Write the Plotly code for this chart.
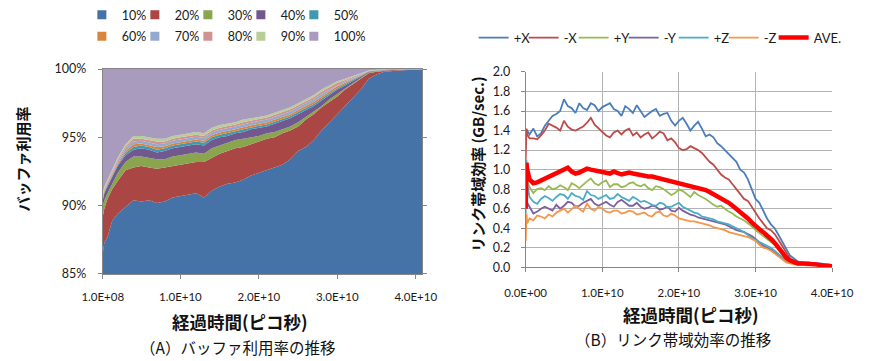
import plotly.graph_objects as go

# ---------------- (A) buffer utilisation, cumulative share per level ----------------
buf_t = [0.01, 0.03, 0.07, 0.13, 0.2, 0.3, 0.4, 0.5, 0.6, 0.7, 0.8, 0.9, 1.0, 1.1, 1.2,
         1.3, 1.4, 1.5, 1.6, 1.7, 1.8, 1.9, 2.0, 2.1, 2.2, 2.3, 2.4, 2.5, 2.6, 2.7, 2.8,
         2.9, 3.0, 3.1, 3.2, 3.3, 3.4, 3.5, 3.6, 3.7, 3.8, 3.9, 4.0, 4.08]  # x 1e10 ps

lv10 = [86.5, 87.3, 87.7, 88.9, 89.4, 89.9, 90.4, 90.3, 90.4, 90.2, 90.3, 90.6, 90.7, 90.8,
        90.9, 90.6, 91.1, 91.4, 91.6, 91.7, 91.9, 92.2, 92.4, 92.6, 92.8, 93.0, 93.4, 94.0,
        94.3, 94.8, 95.5, 96.1, 96.7, 97.3, 97.9, 98.5, 99.3, 99.6, 99.8, 99.87, 99.9, 99.93,
        99.95, 99.96]
lv20 = [89.2, 89.8, 90.5, 91.2, 91.8, 92.6, 92.8, 92.9, 92.8, 92.7, 92.8, 92.9, 93.0, 93.1,
        93.2, 93.2, 93.5, 93.8, 94.0, 94.2, 94.3, 94.5, 94.7, 94.9, 95.0, 95.3, 95.5, 95.8,
        96.3, 96.7, 97.2, 97.6, 98.0, 98.5, 98.9, 99.3, 99.7, 99.8, 99.88, 99.92, 99.94, 99.96,
        99.97, 99.97]
lv30 = [90.0, 90.4, 90.9, 91.6, 92.4, 93.2, 93.6, 93.6, 93.5, 93.4, 93.4, 93.6, 93.7, 93.8,
        93.9, 93.8, 94.2, 94.4, 94.6, 94.8, 94.9, 95.0, 95.1, 95.3, 95.4, 95.6, 95.8, 96.1,
        96.5, 96.9, 97.3, 97.8, 98.2, 98.6, 98.95, 99.35, 99.75, 99.85, 99.9, 99.94, 99.96,
        99.97, 99.98, 99.98]
lv40 = [90.4, 90.9, 91.4, 92.1, 92.9, 93.7, 94.1, 94.2, 94.1, 93.9, 94.0, 94.2, 94.3, 94.4,
        94.5, 94.4, 94.8, 95.0, 95.1, 95.3, 95.4, 95.6, 95.7, 95.8, 96.0, 96.2, 96.4, 96.7,
        97.0, 97.3, 97.7, 98.1, 98.5, 98.8, 99.1, 99.45, 99.8, 99.88, 99.92, 99.95, 99.97,
        99.98, 99.985, 99.985]
lv50 = [90.5, 91.0, 91.5, 92.2, 93.0, 93.85, 94.3, 94.4, 94.3, 94.1, 94.2, 94.4, 94.5, 94.6,
        94.7, 94.6, 95.0, 95.2, 95.3, 95.45, 95.6, 95.75, 95.85, 95.95, 96.15, 96.35, 96.55,
        96.85, 97.15, 97.45, 97.85, 98.25, 98.6, 98.9, 99.2, 99.5, 99.82, 99.89, 99.93, 99.96,
        99.975, 99.982, 99.987, 99.987]
lv60 = [90.6, 91.1, 91.6, 92.3, 93.1, 94.0, 94.5, 94.55, 94.45, 94.3, 94.35, 94.55, 94.65,
        94.75, 94.85, 94.75, 95.15, 95.35, 95.45, 95.6, 95.75, 95.9, 96.0, 96.1, 96.3, 96.5,
        96.7, 97.0, 97.3, 97.6, 98.0, 98.4, 98.75, 99.0, 99.25, 99.55, 99.84, 99.91, 99.94,
        99.965, 99.98, 99.985, 99.989, 99.989]
lv70 = [90.7, 91.2, 91.7, 92.4, 93.25, 94.2, 94.7, 94.75, 94.65, 94.5, 94.55, 94.75, 94.85,
        94.95, 95.05, 94.95, 95.35, 95.55, 95.65, 95.8, 95.95, 96.1, 96.2, 96.3, 96.5, 96.7,
        96.9, 97.2, 97.5, 97.8, 98.2, 98.5, 98.85, 99.1, 99.35, 99.6, 99.86, 99.92, 99.95,
        99.97, 99.985, 99.987, 99.991, 99.991]
lv80 = [90.8, 91.3, 91.8, 92.5, 93.4, 94.35, 94.9, 94.9, 94.8, 94.7, 94.7, 94.9, 95.0, 95.1,
        95.2, 95.1, 95.5, 95.7, 95.8, 95.95, 96.1, 96.25, 96.35, 96.45, 96.65, 96.85, 97.05,
        97.35, 97.65, 97.95, 98.35, 98.65, 99.0, 99.2, 99.4, 99.65, 99.88, 99.94, 99.96,
        99.975, 99.985, 99.988, 99.993, 99.993]
lv90 = [90.9, 91.4, 91.9, 92.6, 93.5, 94.5, 95.1, 95.1, 95.0, 94.9, 94.9, 95.1, 95.2, 95.3,
        95.4, 95.3, 95.7, 95.9, 96.0, 96.1, 96.3, 96.4, 96.5, 96.6, 96.8, 97.0, 97.2, 97.5,
        97.8, 98.1, 98.5, 98.8, 99.1, 99.3, 99.5, 99.7, 99.9, 99.95, 99.97, 99.98, 99.99,
        99.99, 99.995, 99.995]
lv100 = [100.0] * len(buf_t)

level_names = ["10%", "20%", "30%", "40%", "50%", "60%", "70%", "80%", "90%", "100%"]
level_series = [lv10, lv20, lv30, lv40, lv50, lv60, lv70, lv80, lv90, lv100]
level_colors = ["#4572A7", "#AA4643", "#89A54E", "#71588F", "#4198AF",
                "#DB843D", "#93A9CF", "#D19392", "#B9CD96", "#A99BBD"]

buf_xticks = [1e8, 1e10, 2e10, 3e10, 4e10]
buf_xlabels = ["1.0E+08", "1.0E+10", "2.0E+10", "3.0E+10", "4.0E+10"]
buf_yticks = [85, 90, 95, 100]
buf_ylabels = ["85%", "90%", "95%", "100%"]

# ---------------- (B) link bandwidth efficiency (GB/sec.) ----------------
link_t = [0, 0.01, 0.02, 0.05,
          0.1, 0.15, 0.2, 0.25, 0.3, 0.35, 0.4, 0.45, 0.5, 0.55, 0.6, 0.65, 0.7, 0.75,
          0.8, 0.85, 0.9, 0.95, 1.0, 1.05, 1.1, 1.15, 1.2, 1.25, 1.3, 1.35, 1.4, 1.45,
          1.5, 1.55, 1.6, 1.65, 1.7, 1.75, 1.8, 1.85, 1.9, 1.95, 2.0, 2.05, 2.1, 2.15,
          2.2, 2.25, 2.3, 2.35, 2.4, 2.45, 2.5, 2.55, 2.6, 2.65, 2.7, 2.75, 2.8, 2.85,
          2.9, 2.95, 3.0, 3.05, 3.1, 3.15, 3.2, 3.25, 3.3, 3.35, 3.4, 3.45, 3.5, 3.55,
          3.6, 3.65, 3.7, 3.75, 3.8, 3.85, 3.9, 3.95, 4.0]  # x 1e10 ps

px_ = [1.38, 1.41, 1.40, 1.36,
       1.42, 1.34, 1.37, 1.45, 1.50, 1.55, 1.57, 1.60, 1.72, 1.65, 1.63, 1.58, 1.68, 1.63,
       1.61, 1.68, 1.66, 1.60, 1.64, 1.66, 1.68, 1.62, 1.60, 1.55, 1.65, 1.62, 1.58, 1.66,
       1.60, 1.54, 1.57, 1.60, 1.62, 1.55, 1.57, 1.58, 1.50, 1.45, 1.50, 1.53, 1.47, 1.40,
       1.45, 1.49, 1.42, 1.34, 1.36, 1.33, 1.27, 1.24, 1.20, 1.16, 1.12, 1.08, 1.00, 0.97,
       0.90, 0.80, 0.70, 0.66, 0.58, 0.50, 0.44, 0.40, 0.33, 0.26, 0.18, 0.12, 0.09, 0.06,
       0.05, 0.05, 0.05, 0.04, 0.04, 0.04, 0.03, 0.03, 0.02]
mx_ = [1.10, 1.42, 1.36, 1.32,
       1.32, 1.31, 1.35, 1.40, 1.47, 1.45, 1.43, 1.40, 1.50, 1.44, 1.41, 1.40, 1.42, 1.44,
       1.48, 1.53, 1.46, 1.42, 1.38, 1.35, 1.33, 1.38, 1.40, 1.36, 1.40, 1.42, 1.35, 1.38,
       1.33, 1.36, 1.38, 1.32, 1.35, 1.39, 1.37, 1.30, 1.32, 1.28, 1.22, 1.20, 1.21, 1.24,
       1.22, 1.20, 1.17, 1.12, 1.08, 1.05, 1.00, 0.95, 0.92, 0.90, 0.85, 0.80, 0.75, 0.70,
       0.68, 0.62, 0.55, 0.50, 0.45, 0.40, 0.38, 0.34, 0.28, 0.22, 0.15, 0.09, 0.05, 0.04,
       0.04, 0.04, 0.04, 0.03, 0.03, 0.03, 0.02, 0.02, 0.01]
py_ = [0.60, 0.95, 0.88, 0.82,
       0.76, 0.80, 0.81, 0.79, 0.83, 0.80, 0.81, 0.84, 0.82, 0.79, 0.86, 0.84, 0.81, 0.85,
       0.88, 0.91, 0.86, 0.84, 0.87, 0.89, 0.82, 0.85, 0.85, 0.82, 0.83, 0.86, 0.87, 0.84,
       0.83, 0.85, 0.81, 0.79, 0.83, 0.82, 0.80, 0.77, 0.74, 0.76, 0.80, 0.78, 0.75, 0.72,
       0.77, 0.74, 0.72, 0.70, 0.67, 0.64, 0.62, 0.63, 0.60, 0.57, 0.55, 0.52, 0.50, 0.48,
       0.45, 0.42, 0.38, 0.35, 0.32, 0.29, 0.26, 0.23, 0.20, 0.15, 0.10, 0.07, 0.05, 0.04,
       0.04, 0.04, 0.03, 0.03, 0.03, 0.02, 0.02, 0.02, 0.01]
my_ = [0.62, 0.68, 0.66, 0.62,
       0.55, 0.57, 0.60, 0.62, 0.60, 0.58, 0.64, 0.60, 0.63, 0.67, 0.66, 0.62, 0.63, 0.66,
       0.68, 0.70, 0.65, 0.63, 0.65, 0.67, 0.64, 0.62, 0.67, 0.69, 0.66, 0.63, 0.63, 0.66,
       0.62, 0.60, 0.61, 0.63, 0.62, 0.59, 0.60, 0.62, 0.58, 0.57, 0.61, 0.58, 0.56, 0.54,
       0.53, 0.51, 0.50, 0.49, 0.48, 0.47, 0.46, 0.45, 0.44, 0.42, 0.40, 0.38, 0.37, 0.36,
       0.34, 0.32, 0.29, 0.25, 0.22, 0.20, 0.18, 0.15, 0.12, 0.09, 0.06, 0.05, 0.04, 0.03,
       0.03, 0.03, 0.03, 0.02, 0.02, 0.02, 0.02, 0.01, 0.01]
pz_ = [0.55, 1.10, 0.85, 0.72,
       0.67, 0.65, 0.70, 0.73, 0.71, 0.68, 0.72, 0.75, 0.74, 0.70, 0.76, 0.73, 0.72, 0.69,
       0.78, 0.74, 0.73, 0.70, 0.72, 0.74, 0.70, 0.71, 0.75, 0.72, 0.70, 0.68, 0.72, 0.70,
       0.67, 0.68, 0.66, 0.64, 0.63, 0.66, 0.65, 0.61, 0.62, 0.64, 0.66, 0.62, 0.60, 0.58,
       0.56, 0.55, 0.52, 0.51, 0.50, 0.49, 0.47, 0.46, 0.45, 0.44, 0.42, 0.40, 0.38, 0.36,
       0.33, 0.30, 0.28, 0.26, 0.24, 0.22, 0.20, 0.17, 0.13, 0.10, 0.07, 0.05, 0.04, 0.04,
       0.04, 0.03, 0.03, 0.03, 0.02, 0.02, 0.02, 0.01, 0.01]
mz_ = [0.27, 0.55, 0.45, 0.50,
       0.48, 0.53, 0.52, 0.50, 0.54, 0.52, 0.56, 0.58, 0.60, 0.56, 0.60, 0.63, 0.60, 0.57,
       0.65, 0.60, 0.58, 0.62, 0.60, 0.57, 0.56, 0.58, 0.58, 0.55, 0.56, 0.58, 0.57, 0.54,
       0.55, 0.56, 0.53, 0.52, 0.56, 0.57, 0.53, 0.52, 0.55, 0.53, 0.50, 0.49, 0.48, 0.47,
       0.47, 0.46, 0.45, 0.44, 0.43, 0.41, 0.40, 0.39, 0.38, 0.36, 0.35, 0.34, 0.33, 0.32,
       0.31, 0.29, 0.27, 0.23, 0.20, 0.19, 0.17, 0.14, 0.11, 0.08, 0.05, 0.04, 0.03, 0.03,
       0.03, 0.02, 0.02, 0.02, 0.02, 0.01, 0.01, 0.01, 0.01]
ave_ = [0.60, 1.07, 1.00, 0.90,
        0.86, 0.87, 0.89, 0.91, 0.93, 0.95, 0.97, 0.99, 1.01, 1.02, 0.98, 0.96, 0.97, 0.99,
        1.01, 1.00, 0.99, 0.98, 0.97, 0.96, 0.96, 0.98, 0.97, 0.95, 0.96, 0.97, 0.96, 0.95,
        0.95, 0.94, 0.93, 0.93, 0.92, 0.91, 0.91, 0.90, 0.88, 0.87, 0.86, 0.86, 0.85, 0.84,
        0.83, 0.82, 0.80, 0.79, 0.77, 0.75, 0.73, 0.71, 0.68, 0.66, 0.63, 0.60, 0.57, 0.54,
        0.50, 0.46, 0.42, 0.39, 0.36, 0.33, 0.29, 0.25, 0.20, 0.15, 0.10, 0.07, 0.05, 0.04,
        0.04, 0.04, 0.03, 0.03, 0.03, 0.02, 0.02, 0.02, 0.01]

dir_names = ["+X", "-X", "+Y", "-Y", "+Z", "-Z", "AVE."]
dir_series = [px_, mx_, py_, my_, pz_, mz_, ave_]
dir_colors = ["#4A7EBB", "#BE4B48", "#98B954", "#7D60A0", "#4BACC6", "#F79646", "#FF0000"]
dir_widths = [1.8, 1.8, 1.8, 1.8, 1.8, 1.8, 4.5]

link_xticks = [0, 1e10, 2e10, 3e10, 4e10]
link_xlabels = ["0.0E+00", "1.0E+10", "2.0E+10", "3.0E+10", "4.0E+10"]

W, H = 877, 361
LAT = "Lato, 'Noto Sans CJK JP', sans-serif"
CJK = "'Noto Sans CJK JP', sans-serif"

fig = go.Figure()

# stacked-looking areas: each level fills down to the previous one
buf_x = [v * 1e10 for v in buf_t]
for i, (name, ys, col) in enumerate(zip(level_names, level_series, level_colors)):
    fig.add_trace(go.Scatter(
        x=buf_x, y=ys, mode="lines", line=dict(width=0, color=col),
        fill="tozeroy" if i == 0 else "tonexty", fillcolor=col,
        showlegend=False, hoverinfo="skip", xaxis="x", yaxis="y"))

# legend keys for the levels (two rows of five)
for i, (name, col) in enumerate(zip(level_names, level_colors)):
    last_in_row = i % 5 == 4
    fig.add_trace(go.Scatter(
        x=[None], y=[None], mode="markers", name=name,
        legendwidth=32 if last_in_row else 8,
        marker=dict(symbol="square", size=9, color=col),
        legend="legend" if i < 5 else "legend2", xaxis="x", yaxis="y"))

link_x = [v * 1e10 for v in link_t]
for name, ys, col, w in zip(dir_names, dir_series, dir_colors, dir_widths):
    fig.add_trace(go.Scatter(
        x=link_x, y=ys, mode="lines", name=name,
        legendwidth=36 if name == "AVE." else 5,
        line=dict(color=col, width=w), legend="legend3",
        xaxis="x2", yaxis="y2"))

def px(x):
    return x / W

def py(y):
    return 1 - y / H

axis_font = dict(family=LAT, size=11.5, color="#1a1a1a")
leg_common = dict(orientation="h", xanchor="left", yanchor="middle", traceorder="normal",
                  entrywidthmode="pixels", bgcolor="rgba(0,0,0,0)",
                  itemclick=False, itemdoubleclick=False)

fig.update_layout(
    width=W, height=H, margin=dict(l=0, r=0, t=0, b=0),
    paper_bgcolor="white", plot_bgcolor="white",
    font=dict(family=LAT, size=12, color="#1a1a1a"),
    xaxis=dict(domain=[px(86), px(421.7)], range=[1e8, 4.08e10],
               tickvals=buf_xticks, ticktext=buf_xlabels, tickfont=axis_font,
               ticks="outside", ticklen=4, tickcolor="#868686",
               showline=True, linecolor="#868686", linewidth=1, mirror=True,
               showgrid=False, zeroline=False, ticklabelstandoff=8),
    yaxis=dict(domain=[py(277), py(62)], range=[85, 100],
               tickvals=buf_yticks, ticktext=buf_ylabels,
               tickfont=dict(family=LAT, size=12.5, color="#1a1a1a"),
               ticks="outside", ticklen=4, tickcolor="#868686",
               showline=True, linecolor="#868686", linewidth=1, mirror="ticks",
               showgrid=False, zeroline=False, ticklabelstandoff=9),
    xaxis2=dict(domain=[px(530.7), px(853)], range=[0, 4e10],
                tickvals=link_xticks, ticktext=link_xlabels, tickfont=axis_font,
                ticks="outside", ticklen=4, tickcolor="#868686",
                showline=True, linecolor="#868686", linewidth=1,
                showgrid=True, gridcolor="#B3B3B3", gridwidth=1,
                zeroline=False, anchor="y2", ticklabelstandoff=11),
    yaxis2=dict(domain=[py(270), py(65)], range=[0, 2.0], dtick=0.2, tickformat=".1f",
                tickfont=dict(family=LAT, size=12.5, color="#1a1a1a"),
                ticks="outside", ticklen=4, tickcolor="#868686",
                showline=True, linecolor="#868686", linewidth=1,
                showgrid=True, gridcolor="#B3B3B3", gridwidth=1,
                zeroline=False, anchor="x2", ticklabelstandoff=8),
    legend=dict(x=px(64), y=py(5), font=dict(family=LAT, size=12.5, color="#1a1a1a"),
                **leg_common),
    legend2=dict(x=px(64), y=py(28), font=dict(family=LAT, size=12.5, color="#1a1a1a"),
                 **leg_common),
    legend3=dict(x=px(476), y=py(29), font=dict(family=LAT, size=13, color="#1a1a1a"),
                 **leg_common),
)

ann = [
    dict(text="<b>バッファ利用率</b>", x=px(2), y=py(156), textangle=-90,
         font=dict(family=CJK, size=15, color="#111")),
    dict(text="<b>経過時間(ピコ秒)</b>", x=px(230), y=py(327),
         font=dict(family=CJK, size=17.5, color="#111")),
    dict(text="（A）バッファ利用率の推移", x=px(228), y=py(354),
         font=dict(family=CJK, size=15.5, color="#111")),
    dict(text="<b>リンク帯域効率 (GB/sec.)</b>", x=px(480), y=py(162), textangle=-90,
         font=dict(family=CJK, size=15, color="#111")),
    dict(text="<b>経過時間(ピコ秒)</b>", x=px(705), y=py(320),
         font=dict(family=CJK, size=17.5, color="#111")),
    dict(text="（B）リンク帯域効率の推移", x=px(686), y=py(345),
         font=dict(family=CJK, size=15.5, color="#111")),
]
for a in ann:
    fig.add_annotation(xref="paper", yref="paper", showarrow=False,
                       xanchor="center", yanchor="middle", **a)

fig.write_html("out.html")
